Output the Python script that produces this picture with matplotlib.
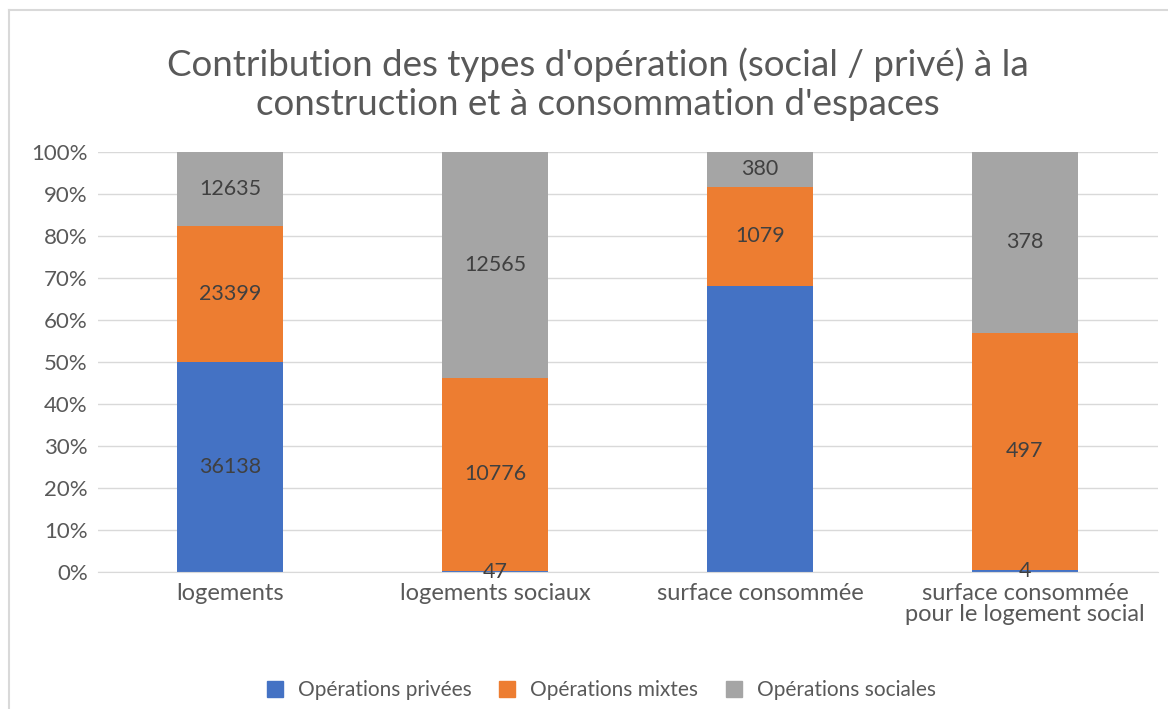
import numpy as np
import matplotlib.pyplot as plt
from matplotlib.lines import Line2D
from matplotlib.ticker import PercentFormatter

plt.rcParams['font.family'] = ['Lato', 'DejaVu Sans']

categories = ['logements', 'logements sociaux', 'surface consommée',
              'surface consommée\npour le logement social']
privees = [36138, 47, 3130, 4]
mixtes = [23399, 10776, 1079, 497]
sociales = [12635, 12565, 380, 378]
# the private share of "surface consommée" has no label in the original
show_privees = [True, True, False, True]

series = [
    ('Opérations privées', privees, '#4472c4'),
    ('Opérations mixtes', mixtes, '#ed7d31'),
    ('Opérations sociales', sociales, '#a5a5a5'),
]

W, H = 1168, 709
fig = plt.figure(figsize=(W / 100, H / 100), dpi=100)
ax = fig.add_axes([97.5 / W, (H - 572) / H, 1060 / W, 420 / H])

totals = np.array(privees) + np.array(mixtes) + np.array(sociales)
x = np.arange(len(categories))
bottom = np.zeros(len(categories))
for k, (name, vals, color) in enumerate(series):
    share = np.array(vals) / totals
    ax.bar(x, share, 0.4, bottom=bottom, color=color, label=name, zorder=2)
    for i, v in enumerate(vals):
        if k == 0 and not show_privees[i]:
            continue
        ax.text(x[i], bottom[i] + share[i] / 2, str(v), ha='center', va='center',
                fontsize=15.5, color='#404040', zorder=3)
    bottom += share

ax.set_xlim(-0.5, len(categories) - 0.5)
ax.set_ylim(0, 1)
ax.set_yticks(np.linspace(0, 1, 11))
ax.yaxis.set_major_formatter(PercentFormatter(1.0, decimals=0))
ax.grid(axis='y', color='#d9d9d9', linewidth=1, zorder=0)
ax.set_xticks(x)
ax.set_xticklabels(categories, linespacing=1.0)
for s in ['top', 'right', 'left']:
    ax.spines[s].set_visible(False)
ax.spines['bottom'].set_color('#d9d9d9')
ax.tick_params(axis='y', length=0, labelsize=16, colors='#595959', pad=7)
ax.tick_params(axis='x', length=0, labelsize=17, colors='#595959', pad=8)
for lbl in ax.get_xticklabels():
    lbl.set_horizontalalignment('center')

fig.text(0.512, 1 - 84 / H, "Contribution des types d'opération (social / privé) à la\n"
         "construction et à consommation d'espaces",
         ha='center', va='center', fontsize=26.5, color='#595959', linespacing=1.2)

handles = [Line2D([], [], marker='s', linestyle='none', markersize=11,
                  color=c) for _, _, c in series]
fig.legend(handles, [n for n, _, _ in series], loc='center',
           bbox_to_anchor=(595 / W, 1 - 690 / H), ncol=3, frameon=False,
           fontsize=15, labelcolor='#595959', handletextpad=0.1,
           columnspacing=0.7)

fig.add_artist(Line2D([9 / W, 9 / W], [0, 1 - 10 / H], color='#d9d9d9', lw=1.5))
fig.add_artist(Line2D([9 / W, 1], [1 - 10 / H, 1 - 10 / H], color='#d9d9d9', lw=1.5))

fig.savefig('out.png', dpi=100)
